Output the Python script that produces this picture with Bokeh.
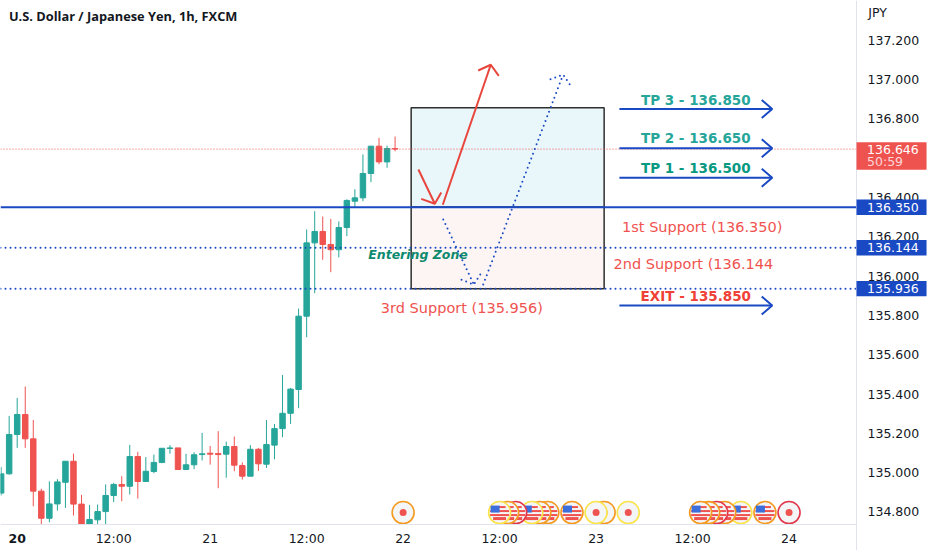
from bokeh.plotting import figure
from bokeh.embed import file_html
from bokeh.resources import INLINE
from bokeh.models import Label, FixedTicker, Range1d
from bokeh.core.properties import value

# ---- candle data (hour index from day 20 00:00) ----
hours = list(range(-2, 48))
opens = [134.896,134.994,135.194,135.296,135.172,134.906,134.768,134.841,134.951,135.058,
         134.840,134.714,134.760,134.802,134.884,134.940,134.931,135.082,134.955,135.006,
         135.052,135.123,135.126,135.016,135.040,135.092,135.099,135.097,135.094,135.133,
         135.036,134.982,135.119,135.043,135.140,135.224,135.302,135.423,135.796,136.169,
         136.227,136.161,136.134,136.247,136.381,136.398,136.522,136.661,136.581,136.649]
highs = [135.028,135.289,135.380,135.438,135.268,134.918,134.956,134.967,135.058,135.097,
         134.887,134.836,134.838,134.940,134.948,134.982,135.141,135.106,135.079,135.092,
         135.124,135.140,135.126,135.096,135.104,135.202,135.136,135.211,135.158,135.184,
         135.052,135.140,135.126,135.268,135.248,135.497,135.431,135.835,136.237,136.330,
         136.303,136.291,136.278,136.390,136.442,136.619,136.661,136.703,136.664,136.710]
lows  = [134.884,134.990,135.126,135.126,134.829,134.720,134.748,134.807,134.821,134.782,
         134.672,134.697,134.723,134.723,134.850,134.855,134.889,134.868,134.953,134.997,
         135.048,135.096,135.016,135.014,135.018,135.062,135.041,134.921,134.974,135.007,
         134.965,134.982,135.009,135.024,135.068,135.180,135.248,135.328,135.689,135.913,
         136.083,136.020,136.095,136.203,136.347,136.381,136.478,136.569,136.551,136.635]
closes= [134.994,135.194,135.296,135.172,134.906,134.768,134.841,134.953,135.058,134.840,
         134.706,134.762,134.802,134.884,134.940,134.931,135.082,134.955,135.007,135.052,
         135.124,135.126,135.016,135.040,135.091,135.096,135.094,135.092,135.133,135.038,
         134.982,135.119,135.045,135.143,135.224,135.302,135.425,135.796,136.169,136.227,
         136.161,136.134,136.247,136.385,136.398,136.522,136.661,136.581,136.649,136.646]

price_ticks = [134.8,135.0,135.2,135.4,135.6,135.8,136.0,136.2,136.4,136.6,136.8,137.0,137.2]
time_ticks = [0,12,24,36,48,60,72,84,96]
time_labels = ["","12:00","21","12:00","22","12:00","23","12:00","24"]

last_price = 136.646
countdown = "50:59"
support_levels = [136.350, 136.144, 135.936]
box_left, box_right = 49, 73
box_top, box_mid, box_bottom = 136.856, 136.350, 135.935

tp_names = ["TP 3 - 136.850","TP 2 - 136.650","TP 1 - 136.500","EXIT - 135.850"]
tp_prices = [136.850,136.650,136.500,135.850]
tp_text_y = [136.898,136.700,136.549,135.901]
tp_colors = ["#26a69a","#26a69a","#089981","#ef4136"]

note_names = ["1st Support (136.350)","2nd Support (136.144","3rd Support (135.956)"]
note_x = [85.2,84.1,55.3]
note_y = [136.252,136.059,135.840]

# paths: x list, price list
red_long = ([52.93,58.9],[136.363,137.075]); red_long_head = ([57.34,58.9,59.9],[137.046,137.075,137.019])
red_short = ([49.9,51.94],[136.542,136.368]); red_short_head = ([50.25,51.94,52.74],[136.393,136.368,136.425])
dot_down = ([52.99,56.79],[136.288,135.957]); dot_down_head = ([55.26,56.79,57.71],[135.981,135.957,136.015])
dot_up = ([57.96,67.9],[135.957,137.025]); dot_up_head = ([66.33,67.9,68.73],[137.002,137.025,136.975])

# events (hour, kind, ring colour), leftmost in front inside a group
ORANGE, YELLOW, RED = "#f39a1f", "#fbe34b", "#e2374a"
event_hours = [48,60,61,62,64,65,66,69,72,73,76,85,86,87,88,90,93,96]
event_kinds = ["jp","us","us","us","us","us","us","us","jp","jp","jp","us","us","us","us","us","us","jp"]
event_rings = [ORANGE,YELLOW,ORANGE,RED,YELLOW,ORANGE,ORANGE,ORANGE,YELLOW,ORANGE,YELLOW,
               ORANGE,ORANGE,RED,ORANGE,YELLOW,ORANGE,RED]
EVENT_PRICE = 134.797
PX_X, PX_Y = 1/8.04, 1/196.6

UP, DOWN = "#26a69a", "#ef5350"
BLUE = "#1a49c4"
FONT = "DejaVu Sans"
AXIS_X = 104.39
AXIS_Y = 134.737
XMIN, XMAX = -2.077, 113.84
YMIN, YMAX = 134.604, 137.402

p = figure(width=932, height=550, frame_width=932, frame_height=550,
           output_backend="svg", toolbar_location=None, y_axis_location="right",
           x_range=Range1d(XMIN, XMAX), y_range=Range1d(YMIN, YMAX),
           min_border_left=0, min_border_top=0, min_border_right=0, min_border_bottom=0,
           background_fill_color="white", border_fill_color="white", outline_line_color=None)
p.grid.visible = False

for ax in (p.xaxis[0], p.yaxis[0]):
    ax.axis_line_color = "#e0e3eb"
    ax.major_tick_line_color = None
    ax.minor_tick_line_color = None
    ax.major_label_text_font = FONT
    ax.major_label_text_font_size = "12.5px"
    ax.major_label_text_color = "#131722"
p.yaxis[0].fixed_location = AXIS_X
p.yaxis[0].bounds = (YMIN, YMAX)
p.yaxis[0].ticker = FixedTicker(ticks=price_ticks)
p.yaxis[0].major_label_overrides = {t: f"{t:.3f}" for t in price_ticks}
p.yaxis[0].major_label_standoff = 5
p.xaxis[0].fixed_location = AXIS_Y
p.xaxis[0].bounds = (XMIN, AXIS_X)
p.xaxis[0].ticker = FixedTicker(ticks=time_ticks)
p.xaxis[0].major_label_overrides = dict(zip(time_ticks, time_labels))
p.xaxis[0].major_label_standoff = 1

# boxes
p.quad(left=[box_left], right=[box_right], top=[box_top], bottom=[box_mid],
       fill_color="#e9f7fb", line_color="#2f2f2f", line_width=1.5)
p.quad(left=[box_left], right=[box_right], top=[box_mid], bottom=[box_bottom],
       fill_color="#fdf5f4", line_color="#2f2f2f", line_width=1.5)

# candles
up_idx = [i for i in range(len(hours)) if closes[i] >= opens[i]]
dn_idx = [i for i in range(len(hours)) if closes[i] < opens[i]]
for idx, col in ((up_idx, UP), (dn_idx, DOWN)):
    xs = [hours[i] for i in idx]
    p.segment(xs, [highs[i] for i in idx], xs, [lows[i] for i in idx], line_color=col, line_width=1)
    p.vbar(x=xs, width=0.68, top=[max(opens[i], closes[i]) for i in idx],
           bottom=[min(opens[i], closes[i]) for i in idx], fill_color=col, line_color=col, line_width=1)

# band below the time axis hides what the pane would clip
p.quad(left=[XMIN], right=[XMAX], top=[AXIS_Y], bottom=[YMIN], fill_color="white", line_color=None)

# horizontal levels
xl = [XMIN, AXIS_X]
p.line(xl, [last_price]*2, line_color=DOWN, line_width=1, line_dash="1 2")
p.line(xl, [support_levels[0]]*2, line_color=BLUE, line_width=2)
for lv in support_levels[1:]:
    p.line(xl, [lv]*2, line_color=BLUE, line_width=2, line_dash="0 5", line_cap="round")

# TP arrows
for tp in tp_prices:
    p.line([74.9, 93.9], [tp, tp], line_color=BLUE, line_width=2)
    p.line([92.6, 93.9, 92.6], [tp+0.046, tp, tp-0.046], line_color=BLUE, line_width=2)
p.text([84.4]*4, tp_text_y, text=tp_names, text_color=tp_colors, text_font=value(FONT),
       text_font_size="13.5px", text_font_style="bold", text_align="center", text_baseline="middle")
p.text(note_x, note_y, text=note_names, text_color=DOWN, text_font=value(FONT),
       text_font_size="14.5px", text_align="center", text_baseline="middle")
p.text([49.85], [136.110], text=["Entering Zone"], text_color="#0e8a6e", text_font=value(FONT),
       text_font_size="12.5px", text_font_style="bold italic", text_align="center", text_baseline="middle")

# drawn arrows
for path in (red_long, red_long_head, red_short, red_short_head):
    p.line(path[0], path[1], line_color="#e8453c", line_width=2)
for path in (dot_down, dot_down_head, dot_up, dot_up_head):
    p.line(path[0], path[1], line_color=BLUE, line_width=2, line_dash="0 5", line_cap="round")

# events
for h, kind, ring in zip(reversed(event_hours), reversed(event_kinds), reversed(event_rings)):
    p.scatter([h], [EVENT_PRICE], marker="circle", size=22, fill_color="#f4f5f7", line_color=ring, line_width=1.6)
    if kind == "jp":
        p.scatter([h], [EVENT_PRICE], marker="circle", size=7, fill_color=DOWN, line_color=None)
    else:
        for dy, w, hh in ((-5.5, 12, 2), (-1.5, 19, 2), (2.5, 19, 2), (6, 13, 3)):
            p.rect([h], [EVENT_PRICE - dy*PX_Y], width=w, height=hh, width_units="screen", height_units="screen",
                   fill_color=DOWN, line_color=None)
        p.rect([h - 4.5*PX_X], [EVENT_PRICE + 3.5*PX_Y], width=9, height=7, width_units="screen", height_units="screen",
               fill_color="#3d6fdc", line_color=None)

# price labels on the scale (drawn above the axis)
TXT_X = 105.7
SCALE_RIGHT = 113.1
for lv in support_levels:
    p.quad(left=[AXIS_X], right=[SCALE_RIGHT], top=[lv+0.039], bottom=[lv-0.039], fill_color=BLUE, line_color=None, level="overlay")
    p.add_layout(Label(x=TXT_X, y=lv, text=f"{lv:.3f}", text_color="white", text_font=FONT, text_font_size="12.5px",
                       text_align="left", text_baseline="middle", level="overlay"))
p.quad(left=[AXIS_X], right=[SCALE_RIGHT], top=[136.681], bottom=[136.541], fill_color=DOWN, line_color=None, level="overlay")
p.add_layout(Label(x=TXT_X, y=last_price, text=f"{last_price:.3f}", text_color="white", text_font=FONT,
                   text_font_size="12.5px", text_align="left", text_baseline="middle", level="overlay"))
p.add_layout(Label(x=TXT_X, y=136.583, text=countdown, text_color="#fbd6d6", text_font=FONT,
                   text_font_size="12.5px", text_align="left", text_baseline="middle", level="overlay"))
p.add_layout(Label(x=107, y=137.339, text="JPY", text_color="#131722", text_font=FONT, text_font_size="12.5px",
                   text_align="center", text_baseline="middle", level="overlay"))
p.add_layout(Label(x=0, y=134.665, text="20", text_color="#131722", text_font=FONT, text_font_size="12.5px",
                   text_font_style="bold", text_align="center", text_baseline="middle", level="overlay"))
p.add_layout(Label(x=-1.03, y=137.325, text="U.S. Dollar / Japanese Yen, 1h, FXCM", text_color="#131722",
                   text_font="Open Sans", text_font_size="12.8px", text_font_style="bold",
                   text_align="left", text_baseline="middle", level="overlay"))

open("out.html", "w").write(file_html(p, INLINE))
